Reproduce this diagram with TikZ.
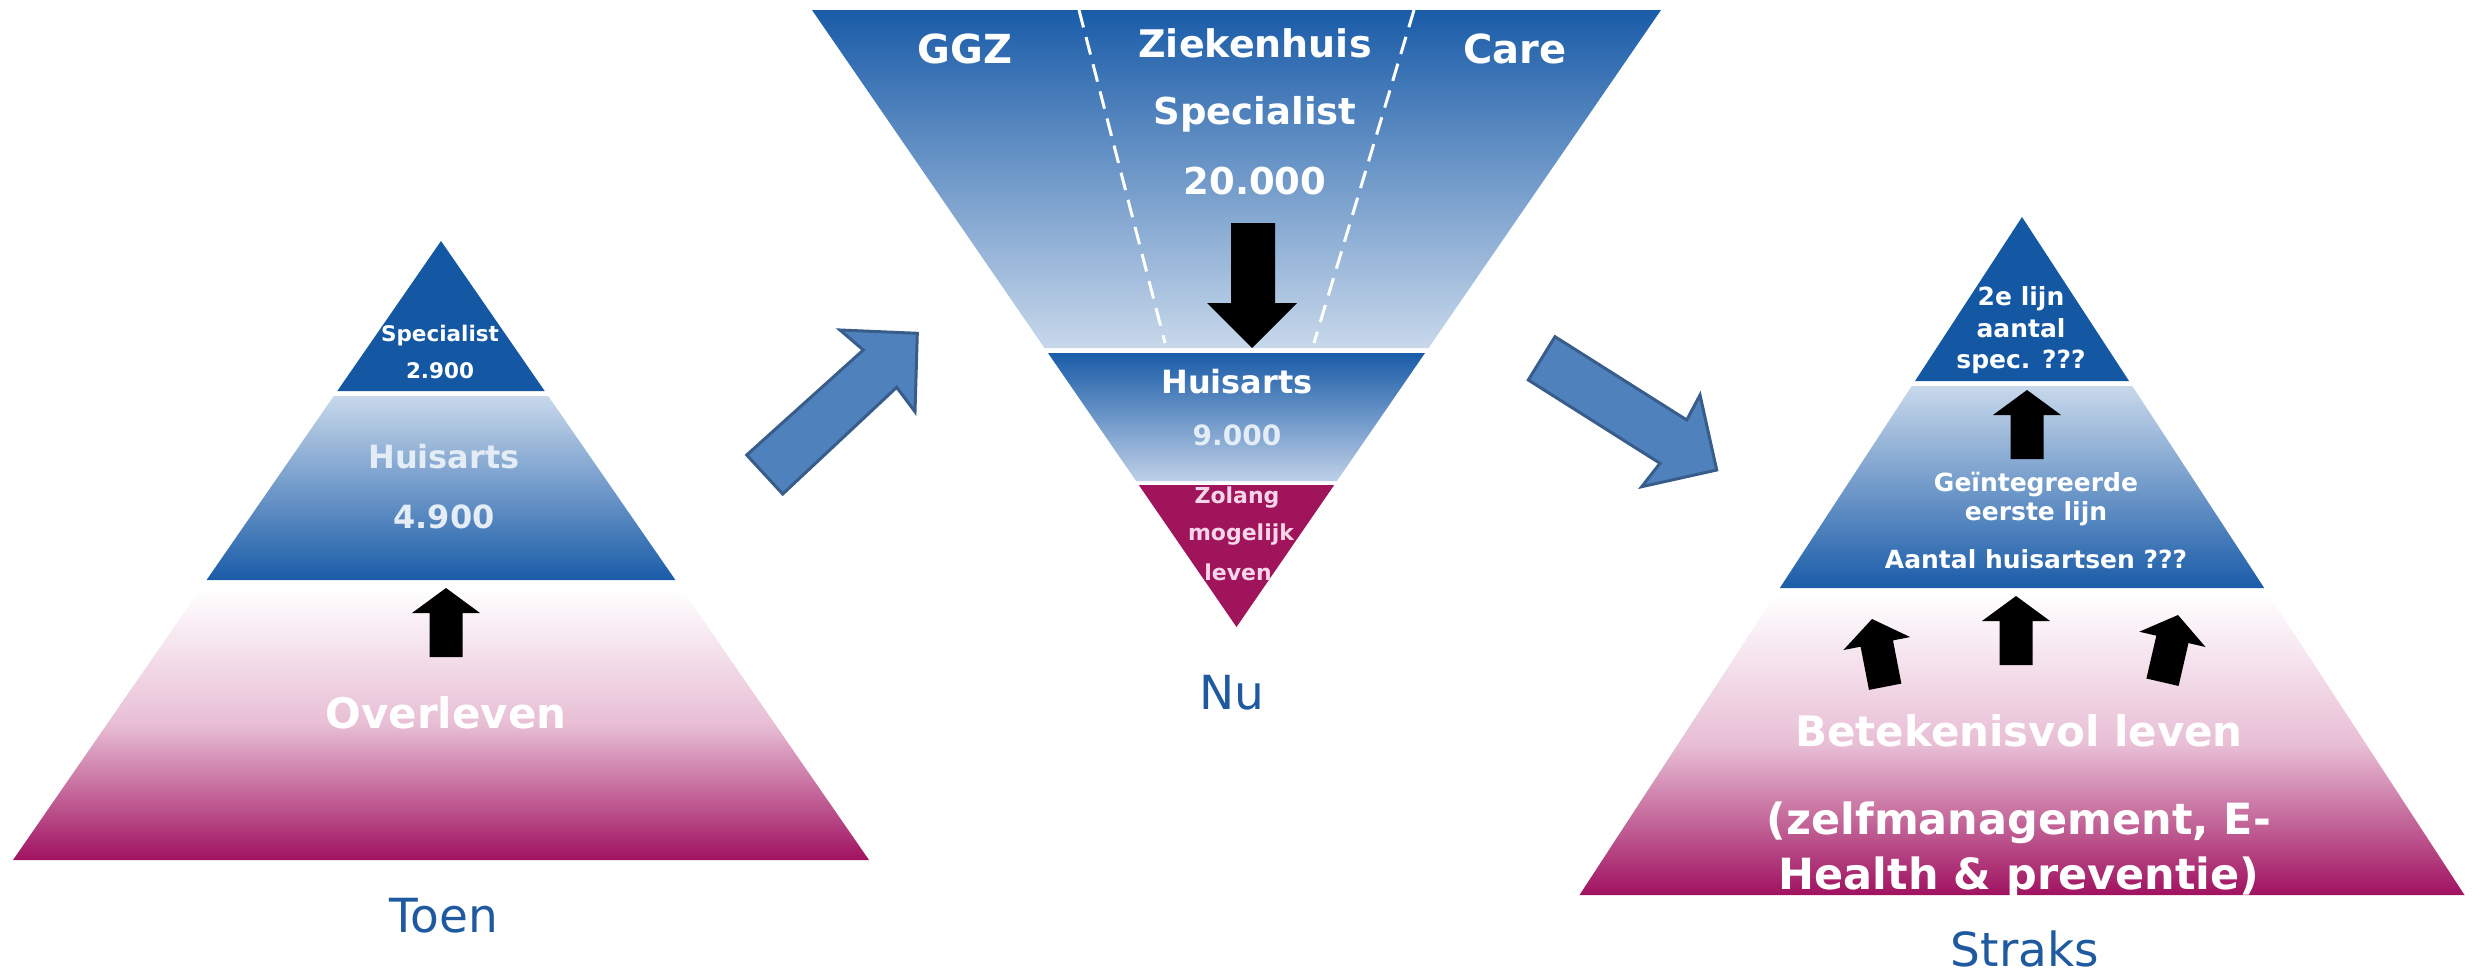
\documentclass[tikz,border=0pt]{standalone}
\usepackage{fontspec}
\setmainfont{DejaVu Sans}
\definecolor{dblue}{RGB}{20,87,163}
\definecolor{lblue}{RGB}{200,216,235}
\definecolor{gblue}{RGB}{26,92,168}
\definecolor{lblue2}{RGB}{190,208,232}
\definecolor{mag}{RGB}{160,18,96}
\definecolor{pinkmid}{RGB}{232,190,213}
\definecolor{magsolid}{RGB}{160,20,92}
\definecolor{lab}{RGB}{31,90,160}
\definecolor{arrfill}{RGB}{79,129,189}
\definecolor{arrdraw}{RGB}{56,93,138}
\definecolor{pinktxt}{RGB}{245,214,232}
\definecolor{bwhite}{RGB}{228,236,246}
\tikzset{
  txt/.style={anchor=base, inner sep=0pt, outer sep=0pt, text=white},
  lbl/.style={anchor=base, inner sep=0pt, outer sep=0pt, text=lab, font=\fontsize{47}{56}\selectfont},
  fs/.style={font=\fontsize{#1}{#1}\selectfont\bfseries},
  blockarrow/.style={fill=arrfill, draw=arrdraw, line width=3pt, line join=miter},
  dashline/.style={draw=white, line width=3pt, dash pattern=on 18pt off 10pt},
  blkup/.pic={\fill[black] (0,0) -- (34,25) -- (16.5,25) -- (16.5,69) -- (-16.5,69) -- (-16.5,25) -- (-34,25) -- cycle;}
}
\begin{document}
\begin{tikzpicture}[x=1pt,y=-1pt]
\useasboundingbox (0,0) rectangle (2483,975);
\fill[white] (0,0) rectangle (2483,975);

% ---------- left pyramid (Toen) ----------
\fill[dblue] (441,241) -- (544.7,391) -- (337.3,391) -- cycle;
\shade[top color=lblue, bottom color=gblue] (333.8,396) -- (548.2,396) -- (675.4,580) -- (206.6,580) -- cycle;
\shade[top color=white, bottom color=mag, middle color=pinkmid] (201.1,588) -- (680.9,588) -- (869,860) -- (13,860) -- cycle;

% ---------- middle inverted pyramid (Nu) ----------
\shade[top color=gblue, bottom color=lblue] (812,10) -- (1661,10) -- (1428.5,348) -- (1044.5,348) -- cycle;
\shade[top color=gblue, bottom color=lblue2] (1048,353) -- (1425,353) -- (1336.9,481) -- (1136.1,481) -- cycle;
\fill[magsolid] (1138.8,485) -- (1334.2,485) -- (1236.5,627) -- cycle;
\coordinate (dl1) at (1079,10);
\coordinate (dl2) at (1165,343);
\coordinate (dr1) at (1414,10);
\coordinate (dr2) at (1314,343);
\draw[dashline] (dl1) -- (dl2);
\draw[dashline] (dr1) -- (dr2);

% ---------- right pyramid (Straks) ----------
\fill[dblue] (2022,217) -- (2129,381) -- (1915,381) -- cycle;
\shade[top color=lblue, bottom color=gblue] (1911.7,386) -- (2132.3,386) -- (2264.2,588) -- (1779.8,588) -- cycle;
\shade[top color=white, bottom color=mag, middle color=pinkmid] (1775.9,594) -- (2268.1,594) -- (2464.5,895) -- (1579.5,895) -- cycle;

% ---------- blue block arrows ----------
\draw[blockarrow] (746.7,455) -- (863.3,350) -- (840,330) -- (917.3,333.3) -- (915,411.7) -- (896.7,387.3) -- (782.7,494) -- cycle;
\draw[blockarrow] (1555,336.7) -- (1686.7,420) -- (1700,395) -- (1716.7,470) -- (1641.7,486.7) -- (1660,463.3) -- (1528.3,380) -- cycle;

% ---------- black arrows ----------
\pic (aL) at (446,588) {blkup};
\fill[black] (1252,348) -- (1297,303) -- (1275,303) -- (1275,223) -- (1231,223) -- (1231,303) -- (1207,303) -- cycle;
\pic (aR1) at (2027,390) {blkup};
\pic (aR2) at (2016,596) {blkup};
\pic[rotate=11] (aR3) at (1872,619) {blkup};
\pic[rotate=-13] (aR4) at (2178,615) {blkup};

% ---------- texts left ----------
\node[txt, fs=21.5] (specL) at (440,341) {Specialist};
\node[txt, fs=21.5] (numL1) at (440,378) {2.900};
\node[txt, fs=32, text=bwhite] (huisL) at (444,468) {Huisarts};
\node[txt, fs=32, text=bwhite] (numL2) at (444,528) {4.900};
\node[txt, fs=42] (overL) at (446,728) {Overleven};
\node[lbl] (toen) at (444,932) {Toen};

% ---------- texts middle ----------
\node[txt, fs=40] (ggz) at (965,63) {GGZ};
\node[txt, fs=38] (zkh) at (1255,57) {Ziekenhuis};
\node[txt, fs=40] (care) at (1515,63) {Care};
\node[txt, fs=37] (specM) at (1255,124) {Specialist};
\node[txt, fs=37] (numM) at (1255,194) {20.000};
\node[txt, fs=32] (huisM) at (1237,393) {Huisarts};
\node[txt, fs=28, text=bwhite] (numM2) at (1237,445) {9.000};
\begin{scope}
\clip (1138.8,480) -- (1334.2,480) -- (1236.5,627) -- cycle;
\node[txt, fs=22, text=pinktxt] (zol) at (1237,503) {Zolang};
\node[txt, fs=22, text=pinktxt] (mog) at (1241,540) {mogelijk};
\node[txt, fs=22, text=pinktxt] (lev) at (1238,580) {leven};
\end{scope}
\node[lbl] (nu) at (1232,709) {Nu};

% ---------- texts right ----------
\node[txt, fs=25] (r1) at (2021,305) {2e lijn};
\node[txt, fs=25] (r2) at (2021,337) {aantal};
\node[txt, fs=25] (r3) at (2021,368) {spec. ???};
\node[txt, fs=25] (r4) at (2036,491) {Geïntegreerde};
\node[txt, fs=25] (r5) at (2036,520) {eerste lijn};
\node[txt, fs=25] (r6) at (2036,568) {Aantal huisartsen ???};
\node[txt, fs=42] (r7) at (2019,746) {Betekenisvol leven};
\node[txt, fs=43] (r8) at (2019,834) {(zelfmanagement, E-};
\node[txt, fs=43] (r9) at (2019,889) {Health \& preventie)};
\node[lbl] (straks) at (2025,966) {Straks};
\end{tikzpicture}
\end{document}
